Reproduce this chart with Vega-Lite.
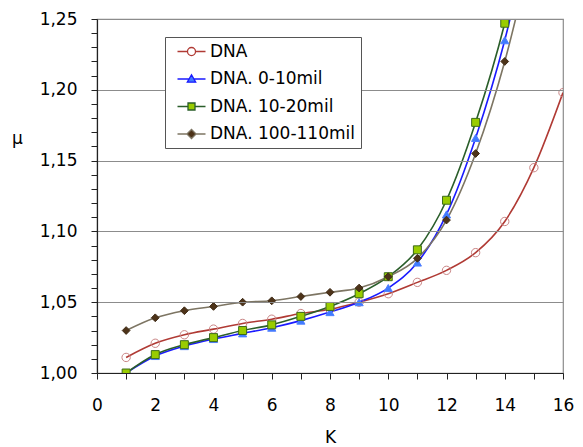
{
  "$schema": "https://vega.github.io/schema/vega-lite/v6.json",
  "width": 466,
  "height": 354,
  "autosize": {"type": "none"},
  "padding": {"left": 97, "top": 19, "right": 20, "bottom": 74},
  "background": "white",
  "config": {
    "view": {"stroke": "#8c8c8c", "strokeWidth": 1.2},
    "font": "DejaVu Sans",
    "axis": {"ticks": true, "domain": true, "tickColor": "#222222", "domainColor": "#222222", "tickSize": 6, "tickWidth": 1, "domainWidth": 1.2},
    "legend": {"disable": false, "labelFontSize": 17, "labelFont": "DejaVu Sans", "labelColor": "#000000"}
  },
  "data": {
    "values": [
      {"series": "DNA", "K": 1, "mu": 1.011},
      {"series": "DNA", "K": 2, "mu": 1.021},
      {"series": "DNA", "K": 3, "mu": 1.027},
      {"series": "DNA", "K": 4, "mu": 1.031},
      {"series": "DNA", "K": 5, "mu": 1.035},
      {"series": "DNA", "K": 6, "mu": 1.038},
      {"series": "DNA", "K": 7, "mu": 1.042},
      {"series": "DNA", "K": 8, "mu": 1.045},
      {"series": "DNA", "K": 9, "mu": 1.050},
      {"series": "DNA", "K": 10, "mu": 1.056},
      {"series": "DNA", "K": 11, "mu": 1.064},
      {"series": "DNA", "K": 12, "mu": 1.0725},
      {"series": "DNA", "K": 13, "mu": 1.085},
      {"series": "DNA", "K": 14, "mu": 1.107},
      {"series": "DNA", "K": 15, "mu": 1.145},
      {"series": "DNA", "K": 16, "mu": 1.198},
      {"series": "DNA. 0-10mil", "K": 1, "mu": 1.000},
      {"series": "DNA. 0-10mil", "K": 2, "mu": 1.012},
      {"series": "DNA. 0-10mil", "K": 3, "mu": 1.019},
      {"series": "DNA. 0-10mil", "K": 4, "mu": 1.024},
      {"series": "DNA. 0-10mil", "K": 5, "mu": 1.028},
      {"series": "DNA. 0-10mil", "K": 6, "mu": 1.032},
      {"series": "DNA. 0-10mil", "K": 7, "mu": 1.037},
      {"series": "DNA. 0-10mil", "K": 8, "mu": 1.043},
      {"series": "DNA. 0-10mil", "K": 9, "mu": 1.050},
      {"series": "DNA. 0-10mil", "K": 10, "mu": 1.060},
      {"series": "DNA. 0-10mil", "K": 11, "mu": 1.078},
      {"series": "DNA. 0-10mil", "K": 12, "mu": 1.112},
      {"series": "DNA. 0-10mil", "K": 13, "mu": 1.166},
      {"series": "DNA. 0-10mil", "K": 14, "mu": 1.235},
      {"series": "DNA. 0-10mil", "K": 15, "mu": 1.325},
      {"series": "DNA. 10-20mil", "K": 1, "mu": 1.000},
      {"series": "DNA. 10-20mil", "K": 2, "mu": 1.013},
      {"series": "DNA. 10-20mil", "K": 3, "mu": 1.020},
      {"series": "DNA. 10-20mil", "K": 4, "mu": 1.025},
      {"series": "DNA. 10-20mil", "K": 5, "mu": 1.030},
      {"series": "DNA. 10-20mil", "K": 6, "mu": 1.034},
      {"series": "DNA. 10-20mil", "K": 7, "mu": 1.040},
      {"series": "DNA. 10-20mil", "K": 8, "mu": 1.047},
      {"series": "DNA. 10-20mil", "K": 9, "mu": 1.056},
      {"series": "DNA. 10-20mil", "K": 10, "mu": 1.068},
      {"series": "DNA. 10-20mil", "K": 11, "mu": 1.087},
      {"series": "DNA. 10-20mil", "K": 12, "mu": 1.122},
      {"series": "DNA. 10-20mil", "K": 13, "mu": 1.177},
      {"series": "DNA. 10-20mil", "K": 14, "mu": 1.247},
      {"series": "DNA. 10-20mil", "K": 15, "mu": 1.340},
      {"series": "DNA. 100-110mil", "K": 1, "mu": 1.030},
      {"series": "DNA. 100-110mil", "K": 2, "mu": 1.039},
      {"series": "DNA. 100-110mil", "K": 3, "mu": 1.044},
      {"series": "DNA. 100-110mil", "K": 4, "mu": 1.047},
      {"series": "DNA. 100-110mil", "K": 5, "mu": 1.050},
      {"series": "DNA. 100-110mil", "K": 6, "mu": 1.051},
      {"series": "DNA. 100-110mil", "K": 7, "mu": 1.054},
      {"series": "DNA. 100-110mil", "K": 8, "mu": 1.057},
      {"series": "DNA. 100-110mil", "K": 9, "mu": 1.060},
      {"series": "DNA. 100-110mil", "K": 10, "mu": 1.068},
      {"series": "DNA. 100-110mil", "K": 11, "mu": 1.081},
      {"series": "DNA. 100-110mil", "K": 12, "mu": 1.108},
      {"series": "DNA. 100-110mil", "K": 13, "mu": 1.155},
      {"series": "DNA. 100-110mil", "K": 14, "mu": 1.220},
      {"series": "DNA. 100-110mil", "K": 15, "mu": 1.305}
    ]
  },
  "layer": [
    {
      "mark": {"type": "line", "interpolate": "monotone", "strokeWidth": 1.6, "clip": true},
      "encoding": {
        "x": {
          "field": "K", "type": "quantitative",
          "scale": {"domain": [0, 16], "nice": false, "zero": false},
          "axis": {
            "tickCount": 16,
            "labelExpr": "datum.value % 2 === 0 ? datum.value : ''",
            "labelOverlap": false, "labelFlush": false,
            "grid": false, "ticks": true, "domain": true, "zindex": 2,
            "labelFontSize": 17, "labelColor": "#000000", "labelPadding": 18,
            "title": "K", "titleFontSize": 17, "titleFontWeight": "normal", "titleColor": "#000000",
            "titlePadding": 16
          }
        },
        "y": {
          "field": "mu", "type": "quantitative",
          "scale": {"domain": [1, 1.25], "nice": false, "zero": false},
          "axis": {
            "tickCount": 25,
            "labelExpr": "abs(datum.value*20 - round(datum.value*20)) < 0.001 ? replace(format(datum.value, '.2f'), '.', ',') : ''",
            "labelOverlap": false, "labelFlush": false,
            "grid": true, "gridColor": "#8c8c8c", "gridWidth": 1.2,
            "gridOpacity": {"condition": {"test": "abs(datum.value*20 - round(datum.value*20)) < 0.001", "value": 1}, "value": 0},
            "ticks": true, "domain": true, "zindex": 2,
            "labelFontSize": 17, "labelColor": "#000000", "labelPadding": 14,
            "title": "μ", "titleAngle": 0, "titleFontSize": 17, "titleFontWeight": "normal", "titleColor": "#000000",
            "titleAlign": "center", "titleBaseline": "middle", "titleX": -80, "titleY": 119
          }
        },
        "color": {
          "field": "series", "type": "nominal",
          "scale": {
            "domain": ["DNA", "DNA. 0-10mil", "DNA. 10-20mil", "DNA. 100-110mil"],
            "range": ["#b03a34", "#1a1aff", "#2a5e2a", "#7d7563"]
          },
          "legend": {
            "title": null,
            "orient": "none", "legendX": 68, "legendY": 18,
            "fillColor": "white", "strokeColor": "#555555",
            "padding": 6,
            "labelFontSize": 17, "labelColor": "#000000", "labelFont": "DejaVu Sans",
            "symbolSize": 49, "symbolOffset": 12, "labelOffset": 10,
            "rowPadding": 9.5,
            "symbolStrokeWidth": 1.3,
            "zindex": 3,
            "encode": {
              "symbols": {
                "update": {
                  "shape": {"signal": "datum.value === 'DNA' ? 'M-4,0H-1.15M1.15,0H4M-1.15,0A1.15,1.15,0,1,0,1.15,0A1.15,1.15,0,1,0,-1.15,0Z' : datum.value === 'DNA. 0-10mil' ? 'M-4,0H-0.8M0.8,0H4M-1.2,0.9L0,-1.2L1.2,0.9Z' : datum.value === 'DNA. 10-20mil' ? 'M-4,0H-1M1,0H4M-1,-1H1V1H-1Z' : 'M-4,0H-1.3M1.3,0H4M-1.3,0L0,-1.3L1.3,0L0,1.3Z'"},
                  "fill": {"signal": "datum.value === 'DNA' ? 'transparent' : datum.value === 'DNA. 0-10mil' ? '#3f7bff' : datum.value === 'DNA. 10-20mil' ? '#99cc00' : '#4d3319'"},
                  "stroke": {"signal": "datum.value === 'DNA' ? '#b03a34' : datum.value === 'DNA. 0-10mil' ? '#1a1aff' : datum.value === 'DNA. 10-20mil' ? '#2a5e2a' : '#7d7563'"},
                  "size": {"value": 49},
                  "opacity": {"value": 1},
                  "fillOpacity": {"value": 1},
                  "strokeOpacity": {"value": 1}
                }
              }
            }
          }
        }
      }
    },
    {
      "mark": {"type": "point", "filled": true, "clip": true, "strokeWidth": 1, "opacity": 1},
      "encoding": {
        "x": {
          "field": "K", "type": "quantitative",
          "scale": {"domain": [0, 16], "nice": false, "zero": false},
          "axis": {
            "tickCount": 16,
            "labelExpr": "datum.value % 2 === 0 ? datum.value : ''",
            "labelOverlap": false, "labelFlush": false,
            "grid": false, "ticks": true, "domain": true, "zindex": 2,
            "labelFontSize": 17, "labelColor": "#000000", "labelPadding": 18,
            "title": "K", "titleFontSize": 17, "titleFontWeight": "normal", "titleColor": "#000000",
            "titlePadding": 16
          }
        },
        "y": {
          "field": "mu", "type": "quantitative",
          "scale": {"domain": [1, 1.25], "nice": false, "zero": false},
          "axis": {
            "tickCount": 25,
            "labelExpr": "abs(datum.value*20 - round(datum.value*20)) < 0.001 ? replace(format(datum.value, '.2f'), '.', ',') : ''",
            "labelOverlap": false, "labelFlush": false,
            "grid": true, "gridColor": "#8c8c8c", "gridWidth": 1.2,
            "gridOpacity": {"condition": {"test": "abs(datum.value*20 - round(datum.value*20)) < 0.001", "value": 1}, "value": 0},
            "ticks": true, "domain": true, "zindex": 2,
            "labelFontSize": 17, "labelColor": "#000000", "labelPadding": 14,
            "title": "μ", "titleAngle": 0, "titleFontSize": 17, "titleFontWeight": "normal", "titleColor": "#000000",
            "titleAlign": "center", "titleBaseline": "middle", "titleX": -80, "titleY": 119
          }
        },
        "shape": {
          "field": "series", "type": "nominal", "legend": null,
          "scale": {
            "domain": ["DNA", "DNA. 0-10mil", "DNA. 10-20mil", "DNA. 100-110mil"],
            "range": ["circle", "triangle-up", "square", "diamond"]
          }
        },
        "fill": {
          "field": "series", "type": "nominal", "legend": null,
          "scale": {
            "domain": ["DNA", "DNA. 0-10mil", "DNA. 10-20mil", "DNA. 100-110mil"],
            "range": ["transparent", "#3f7bff", "#99cc00", "#4d3319"]
          }
        },
        "stroke": {
          "field": "series", "type": "nominal", "legend": null,
          "scale": {
            "domain": ["DNA", "DNA. 0-10mil", "DNA. 10-20mil", "DNA. 100-110mil"],
            "range": ["#c98585", "#4f7fff", "#3d6b1a", "#3f2b16"]
          }
        },
        "size": {
          "field": "series", "type": "nominal", "legend": null,
          "scale": {
            "domain": ["DNA", "DNA. 0-10mil", "DNA. 10-20mil", "DNA. 100-110mil"],
            "range": [70, 60, 64, 130]
          }
        }
      }
    }
  ],
  "resolve": {"scale": {"color": "independent", "fill": "independent", "stroke": "independent"}}
}
